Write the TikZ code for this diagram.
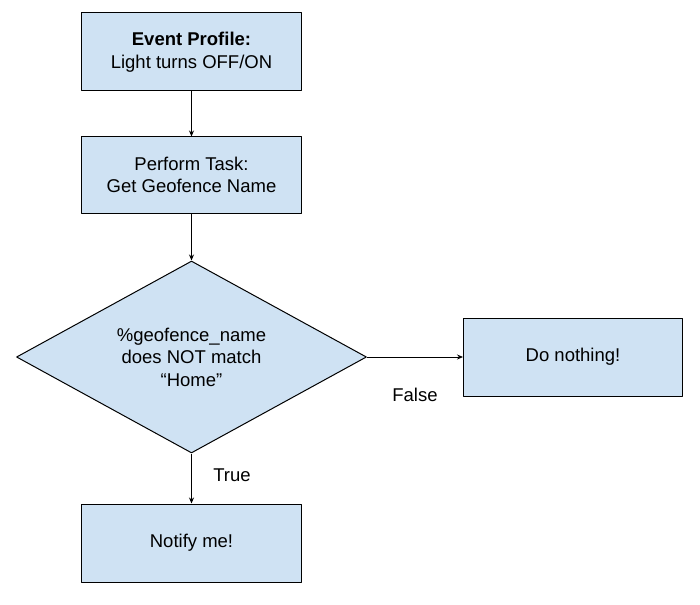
\documentclass[tikz,border=0pt]{standalone}
\usepackage{fontspec}
\setmainfont{Liberation Sans}
\usetikzlibrary{shapes.geometric,arrows.meta,positioning}
\definecolor{boxblue}{HTML}{CFE2F3}
\begin{document}
\begin{tikzpicture}[x=1pt, y=-1pt, line join=round,
	stepbox/.style={draw=black, line width=1pt, fill=boxblue, align=center,
		minimum width=220pt, inner sep=0pt, font=\fontsize{18.5}{22.5}\selectfont},
	decide/.style={stepbox, diamond, minimum width=350pt, minimum height=192pt, aspect=1.82},
	flow/.style={line width=0.8pt, -{Stealth[length=6pt, width=5pt]}},
	lbl/.style={font=\fontsize{18.5}{22.5}\selectfont}]
	\fill[white] (0,0) rectangle (700,604);
	\useasboundingbox (0,0) rectangle (700,604);
	
	% Các khối
	\node[stepbox, minimum height=78pt] (profile) at (191.5,52) {\textbf{Event Profile:}\\Light turns OFF/ON};
	\node[stepbox, minimum height=76pt] (task) at (191.5,175) {Perform Task:\\Get Geofence Name};
	\node[decide] (check) at (191.5,357) {\%geofence\_name\\does NOT match\\“Home”};
	\node[stepbox, minimum width=219pt, minimum height=78pt] (nothing) at (573,357) {Do nothing!};
	\node[stepbox, minimum height=78pt] (notify) at (191.5,543) {Notify me!};
	
	% Các mũi tên
	\draw[flow] (profile) -- (task);
	\draw[flow] (task) -- (check);
	\draw[flow] (check) -- (nothing);
	\draw[flow] (check) -- (notify);
	
	% Nhãn nhánh
	\node[lbl] (false) at (415,395) {False};
	\node[lbl] (true) at (232,475) {True};
\end{tikzpicture}
\end{document}
